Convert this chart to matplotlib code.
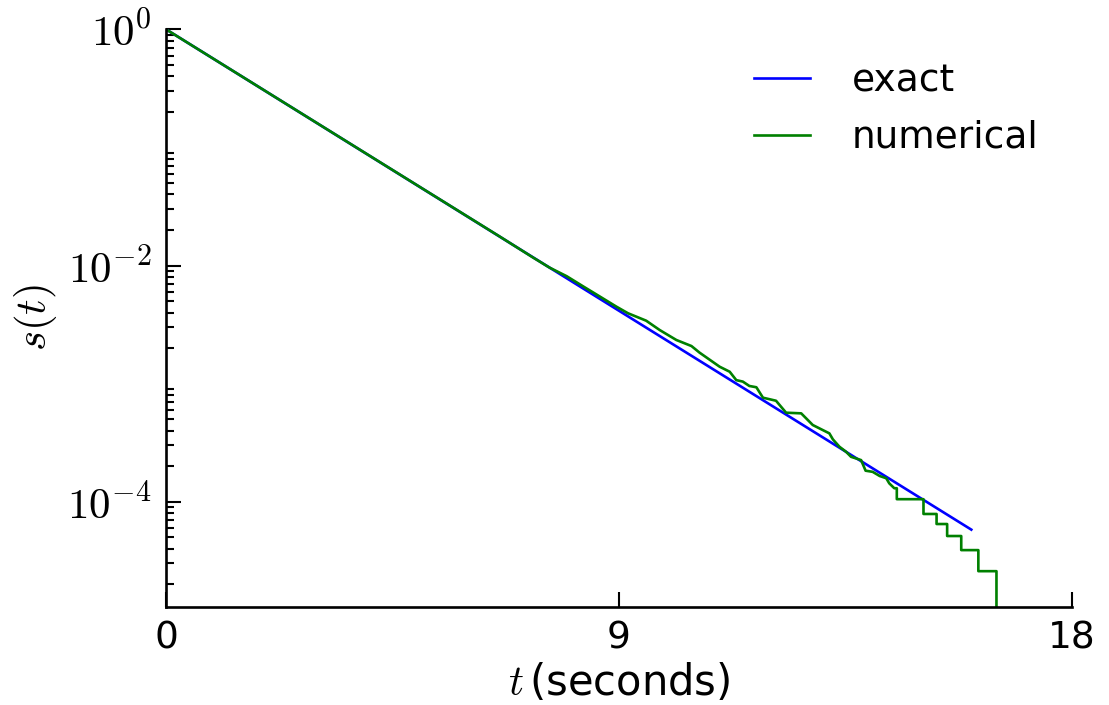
import numpy as np
import matplotlib
matplotlib.use("Agg")
import matplotlib.pyplot as plt
from matplotlib.ticker import FuncFormatter

plt.rcParams['mathtext.fontset'] = 'cm'
plt.rcParams['font.family'] = 'DejaVu Sans'

# exact solution (straight line on log axis)
t_exact = [0.0, 16.0]
s_exact = [1.0, 5.8e-5]

# numerical curve
t_num = [0.0, 6.63, 7.29, 7.62, 7.96, 8.29, 8.62, 8.95, 9.18, 9.54, 9.81,
         10.14, 10.44, 10.60, 11.00, 11.20, 11.33, 11.46, 11.59, 11.73, 11.86,
         12.12, 12.32, 12.62, 12.85, 13.05, 13.18, 13.25, 13.38, 13.51, 13.61,
         13.81, 13.90, 14.04, 14.18, 14.31, 14.37, 14.47]
s_num = [1.0, 0.0176, 0.01170, 0.00960, 0.00812, 0.00665, 0.00546, 0.00448,
         0.00394, 0.00341, 0.00284, 0.00234, 0.00208, 0.00183, 0.00139, 0.00126,
         0.00107, 0.00104, 0.000955, 0.000931, 0.000760, 0.000716, 0.000567,
         0.000560, 0.000446, 0.000404, 0.000379, 0.000337, 0.000292, 0.000265,
         0.000240, 0.000225, 0.000183, 0.000179, 0.000165, 0.000158, 0.000143,
         0.000130]

# tail: a staircase (few samples left)
t_tail = [14.52, 15.05, 15.31, 15.52, 15.80, 16.14, 16.50]
s_tail = [1.05e-4, 7.87e-5, 6.47e-5, 5.12e-5, 3.89e-5, 2.58e-5, 1e-6]

tt = list(t_num)
ss = list(s_num)
prev = s_num[-1]
for t, s in zip(t_tail, s_tail):
    tt += [t, t]
    ss += [prev, s]
    prev = s

fig = plt.figure(figsize=(11.09, 7.05), dpi=100)
ax = fig.add_axes([0.1497, 0.1394, 0.8169, 0.8190])

ax.plot(t_exact, s_exact, '-', color='#0000ff', linewidth=1.9, label='exact')
ax.plot(tt, ss, '-', color='#008000', linewidth=1.9, label='numerical')

ax.set_yscale('log')
ax.set_xlim(0, 18)
ax.set_ylim(1.29e-5, 1.0)
ax.set_xticks([0, 9, 18])
ax.set_yticks([1e-4, 1e-2, 1e0])
ax.yaxis.set_major_formatter(FuncFormatter(lambda v, p: r'$10^{%d}$' % round(np.log10(v))))

ax.spines['top'].set_visible(False)
ax.spines['right'].set_visible(False)
for sp in ax.spines.values():
    sp.set_linewidth(1.9)
ax.tick_params(which='both', direction='in', top=False, right=False, width=1.5)
ax.tick_params(axis='x', labelsize=27)
ax.tick_params(axis='y', labelsize=31)
ax.tick_params(which='major', length=10.5, pad=10)
ax.tick_params(which='minor', length=5.5)

ax.set_xlabel(r'$t\,$(seconds)', fontsize=30, labelpad=4)
ax.set_ylabel(r'$s(t)$', fontsize=31, labelpad=6)

leg = ax.legend(loc='upper right', frameon=False, fontsize=27, handlelength=1.5,
                handletextpad=1.1, labelspacing=0.55, borderaxespad=0.5)

fig.savefig('out.png', dpi=100)
